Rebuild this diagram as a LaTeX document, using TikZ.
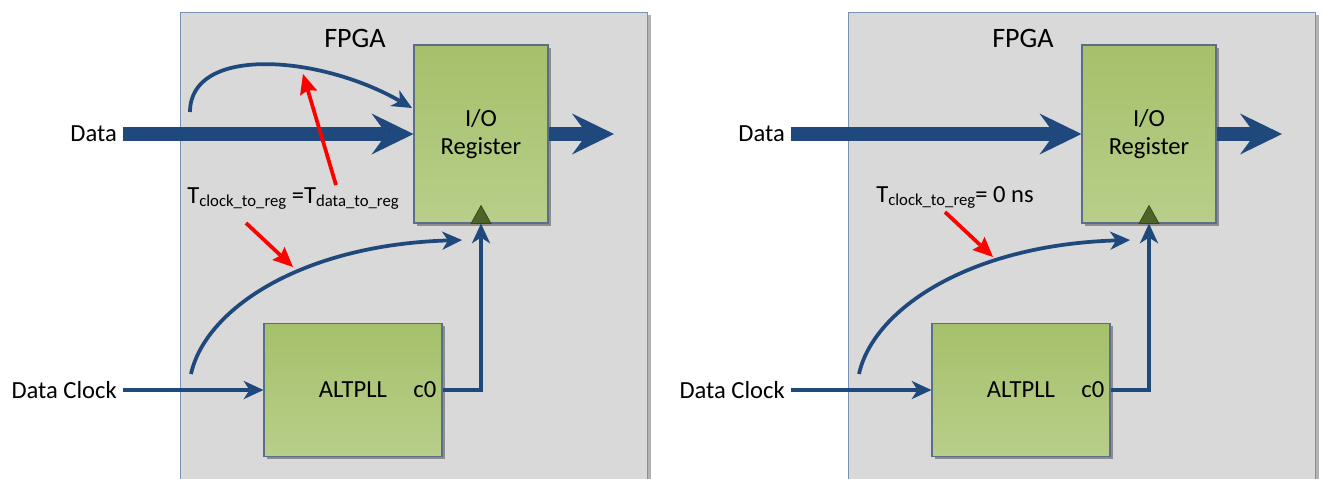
\documentclass[tikz,border=0pt]{standalone}
\usepackage{fontspec}
\setmainfont{Carlito}
\usetikzlibrary{arrows.meta, shadows}
\definecolor{wireBlue}{RGB}{31,73,125}
\definecolor{fpgaGrey}{RGB}{217,217,217}
\definecolor{fpgaEdge}{RGB}{120,145,180}
\definecolor{blkEdge}{RGB}{90,110,140}
\definecolor{blkTop}{RGB}{166,192,106}
\definecolor{blkBot}{RGB}{184,206,138}
\definecolor{clkGreen}{RGB}{79,98,40}
\newcommand{\tsub}[1]{\raisebox{-2pt}{\fontsize{9.5}{11}\selectfont #1}}

\begin{document}
\begin{tikzpicture}[x=0.02cm, y=-0.02cm,
  lbl/.style={font=\fontsize{14}{16}\selectfont},
  big/.style={font=\fontsize{16}{18}\selectfont},
  fpga/.style={draw=fpgaEdge, fill=fpgaGrey, line width=0.6pt, inner sep=0pt,
    minimum width=9.36cm, minimum height=9.6cm,
    drop shadow={shadow xshift=1.5pt, shadow yshift=-1.5pt, fill=black, opacity=0.3}},
  blk/.style={lbl, draw=blkEdge, line width=0.6pt, top color=blkTop, bottom color=blkBot,
    inner sep=0pt, drop shadow={shadow xshift=1.5pt, shadow yshift=-1.5pt, fill=black, opacity=0.35}},
  bus/.style={wireBlue, line width=0.28cm,
    -{Stealth[length=0.84cm, width=0.82cm, inset=0.3cm, line width=0pt]}},
  wire/.style={wireBlue, line width=0.075cm,
    -{Stealth[length=0.4cm, width=0.37cm, inset=0.12cm, line width=0pt]}},
  note/.style={red, line width=0.075cm,
    -{Stealth[length=0.4cm, width=0.36cm, inset=0.06cm, line width=0pt]}},
  clk/.style={fill=clkGreen, draw=clkGreen!70!black, line width=0.4pt},
]
  \clip (0,0) rectangle (1323,478);

  % left panel
  \node[fpga] (fpgaL) at (414,252) {};
  \node[big] (fpgaLblL) at (355,38) {FPGA};
  \node[blk, minimum width=2.68cm, minimum height=3.56cm, align=center] (regL) at (481,134) {I/O\\Register};
  \node[blk, minimum width=3.56cm, minimum height=2.66cm] (pllL) at (353,390) {ALTPLL};
  \node[lbl, anchor=east] (c0L) at (pllL.east) {c0};
  \node[lbl, anchor=east] (dataL) at (123,134) {Data};
  \node[lbl, anchor=east] (dclkL) at (123,390) {Data Clock};
  \node[lbl, anchor=base west, inner sep=0pt] (tL) at (187,203)
    {T\tsub{clock\_to\_reg} =T\tsub{data\_to\_reg}};
  \coordinate (outL) at (614,134);
  \coordinate (upL0) at (190,112);
  \coordinate (upL1) at (412,108);
  \coordinate (loL0) at (191,374);
  \coordinate (loL1) at (462,240);
  \coordinate (nA0) at (336,185);
  \coordinate (nA1) at (303,74);
  \coordinate (nB0) at (246,223);
  \coordinate (nB1) at (293,267);

  \draw[bus] (dataL.east) -- (regL.west);
  \draw[bus] (regL.east) -- (outL);
  \draw[clk] (regL.south) ++(-10,0) -- ++(10,-18) -- ++(10,18) -- cycle;
  \draw[wire] (dclkL.east) -- (pllL.west);
  \draw[wire] (pllL.east) -| (regL.south);
  \draw[wire] (upL0) .. controls (190,45) and (320,55) .. (upL1);
  \draw[wire] (loL0) .. controls (205,310) and (300,245) .. (loL1);
  \draw[note] (nA0) -- (nA1);
  \draw[note] (nB0) -- (nB1);

  % right panel
  \node[fpga] (fpgaR) at (1082,252) {};
  \node[big] (fpgaLblR) at (1023,38) {FPGA};
  \node[blk, minimum width=2.68cm, minimum height=3.56cm, align=center] (regR) at (1149,134) {I/O\\Register};
  \node[blk, minimum width=3.56cm, minimum height=2.66cm] (pllR) at (1021,390) {ALTPLL};
  \node[lbl, anchor=east] (c0R) at (pllR.east) {c0};
  \node[lbl, anchor=east] (dataR) at (791,134) {Data};
  \node[lbl, anchor=east] (dclkR) at (791,390) {Data Clock};
  \node[lbl, anchor=base west, inner sep=0pt] (tR) at (876,202)
    {T\tsub{clock\_to\_reg}= 0 ns};
  \coordinate (outR) at (1282,134);
  \coordinate (loR0) at (859,374);
  \coordinate (loR1) at (1130,240);
  \coordinate (nC0) at (945,212);
  \coordinate (nC1) at (993,257);

  \draw[bus] (dataR.east) -- (regR.west);
  \draw[bus] (regR.east) -- (outR);
  \draw[clk] (regR.south) ++(-10,0) -- ++(10,-18) -- ++(10,18) -- cycle;
  \draw[wire] (dclkR.east) -- (pllR.west);
  \draw[wire] (pllR.east) -| (regR.south);
  \draw[wire] (loR0) .. controls (873,310) and (968,245) .. (loR1);
  \draw[note] (nC0) -- (nC1);
\end{tikzpicture}
\end{document}
